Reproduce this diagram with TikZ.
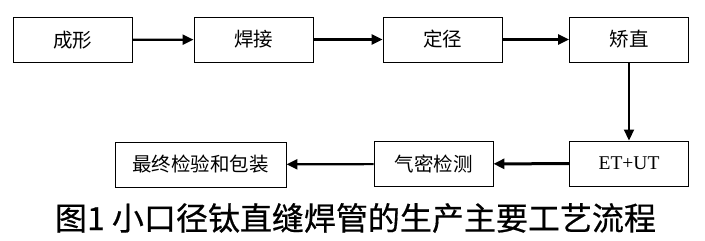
\documentclass[tikz,border=0pt]{standalone}
\usepackage{fontspec}
\setmainfont{Liberation Serif}
\newfontfamily\cjk{Noto Sans CJK SC}
\newfontfamily\cjkcap{Noto Sans CJK SC}[FakeBold=0.5]
\usetikzlibrary{arrows.meta}
\begin{document}
\begin{tikzpicture}[x=1pt,y=-1pt,
  stepbox/.style={draw,line width=0.9pt,minimum width=119pt,minimum height=45pt,
    inner sep=0pt,font=\cjk\fontsize{19.5}{19.5}\selectfont},
  flow/.style={-{Triangle[length=11pt,width=10pt]},line width=2.2pt}]
  \useasboundingbox (0,0) rectangle (705,241);
  \node[stepbox] (form) at (72.5,40) {成形};
  \node[stepbox] (weld) at (253.5,39.5) {焊接};
  \node[stepbox] (size) at (442.5,39.5) {定径};
  \node[stepbox] (straight) at (629,39.5) {矫直};
  \node[stepbox] (etut) at (629,163.5) {\rmfamily ET+UT};
  \node[stepbox] (leak) at (433.5,164) {气密检测};
  \node[stepbox,minimum width=171pt] (final) at (200.5,164.5) {最终检验和包装};
  \draw[flow] (form) -- (weld);
  \draw[flow,line width=3pt] (weld) -- (size);
  \draw[flow,line width=3pt] (size) -- (straight);
  \draw[flow,line width=1.8pt] (straight) -- (etut);
  \draw[flow,line width=3pt] (etut) -- (leak);
  \draw[flow] (leak) -- (final);
  \node[font=\cjkcap\fontsize{32}{32}\selectfont] (caption) at (355.5,218)
    {图1 小口径钛直缝焊管的生产主要工艺流程};
\end{tikzpicture}
\end{document}
